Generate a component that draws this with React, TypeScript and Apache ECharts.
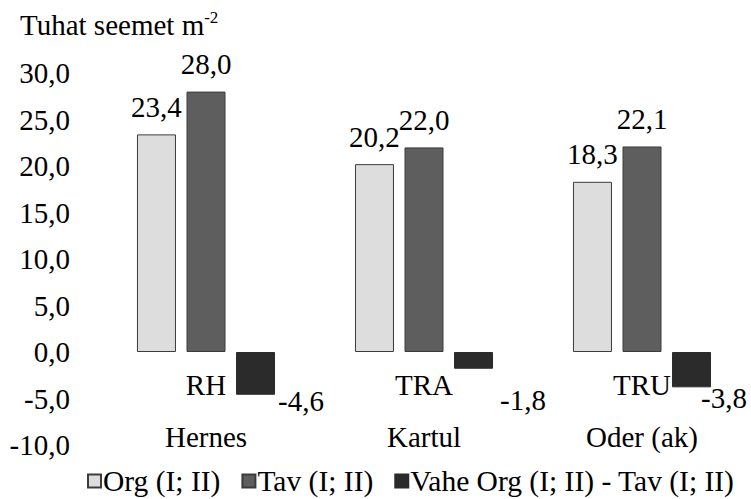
import React, { useEffect, useRef } from "react";
import * as echarts from "echarts";

const categories = ["Hernes", "Kartul", "Oder (ak)"];
const codes = ["RH", "TRA", "TRU"];
const codeLevel = [-3.55, -3.55, -3.55];
const orgValues = [23.4, 20.2, 18.3];
const tavValues = [28.0, 22.0, 22.1];
const vaheValues = [-4.6, -1.8, -3.8];
const vaheLabelOffsets = [
  [-2, 28],
  [2, 40],
  [-15, 28],
];
const seriesNames = ["Org (I; II)", "Tav (I; II)", "Vahe Org (I; II) - Tav (I; II)"];

const FONT = "Liberation Serif";
const FS = 29;
const fmt = (v: number) => v.toFixed(1).replace(".", ",");

export default function App() {
  const ref = useRef<HTMLDivElement>(null);
  useEffect(() => {
    if (!ref.current) return;
    const chart = echarts.init(ref.current, null, { renderer: "svg" });
    const labelBase = {
      show: true,
      position: "top" as const,
      distance: 13,
      color: "#000",
      fontFamily: FONT,
      fontSize: FS,
      formatter: (p: any) => fmt(p.value as number),
    };
    chart.setOption({
      animation: false,
      textStyle: { fontFamily: FONT, color: "#000", fontSize: FS },
      title: {
        left: 20,
        top: 9,
        padding: 0,
        text: "{a|Tuhat seemet m}{s|-2}",
        textStyle: {
          fontWeight: "normal",
          rich: {
            a: { fontFamily: FONT, fontSize: FS, fontWeight: "normal", color: "#000", lineHeight: 30, verticalAlign: "bottom" },
            s: { fontFamily: FONT, fontSize: 17, fontWeight: "normal", color: "#000", lineHeight: 30, verticalAlign: "top" },
          },
        },
      },
      grid: { left: 97, width: 663, top: 73, bottom: 54, containLabel: false },
      legend: {
        left: 87,
        top: 466,
        padding: 0,
        data: seriesNames,
        icon: "rect",
        itemWidth: 13,
        itemHeight: 13,
        itemGap: 21,
        textStyle: { fontFamily: FONT, fontSize: 29.5, color: "#000", padding: [0, 0, 0, -3] },
      },
      xAxis: {
        type: "category",
        data: categories,
        axisLine: { show: false },
        axisTick: { show: false },
        axisLabel: { margin: -23, fontFamily: FONT, fontSize: FS, color: "#000" },
      },
      yAxis: {
        type: "value",
        min: -10,
        max: 30,
        interval: 5,
        axisLine: { show: false },
        axisTick: { show: false },
        splitLine: { show: false },
        axisLabel: {
          margin: 27,
          fontFamily: FONT,
          fontSize: FS,
          color: "#000",
          formatter: (v: number) => fmt(v),
        },
      },
      series: [
        {
          name: seriesNames[0],
          type: "bar",
          data: orgValues,
          barWidth: 39,
          barGap: "27%",
          itemStyle: { color: "#DDDDDD", borderColor: "#3c3c3c", borderWidth: 1 },
          label: labelBase,
        },
        {
          name: seriesNames[1],
          type: "bar",
          data: tavValues,
          barWidth: 39,
          barGap: "27%",
          itemStyle: { color: "#5E5E5E", borderColor: "#3c3c3c", borderWidth: 1 },
          label: labelBase,
        },
        {
          name: seriesNames[2],
          type: "bar",
          barWidth: 39,
          barGap: "27%",
          data: vaheValues.map((v, i) => ({
            value: v,
            label: { offset: vaheLabelOffsets[i] },
          })),
          itemStyle: { color: "#2B2B2B", borderColor: "#2B2B2B", borderWidth: 1 },
          label: { ...labelBase, position: "right", distance: 5 },
        },
        {
          name: "codes",
          type: "scatter",
          symbolSize: 0,
          itemStyle: { opacity: 1 },
          data: codes.map((c, i) => [categories[i], codeLevel[i]]),
          label: {
            show: true,
            position: "inside",
            fontFamily: FONT,
            fontSize: FS,
            color: "#000",
            opacity: 1,
            formatter: (p: any) => codes[p.dataIndex],
          },
          silent: true,
        },
      ],
    });
    return () => chart.dispose();
  }, []);
  return <div ref={ref} style={{ width: 751, height: 499, position: "absolute", left: 0, top: 0 }} />;
}
